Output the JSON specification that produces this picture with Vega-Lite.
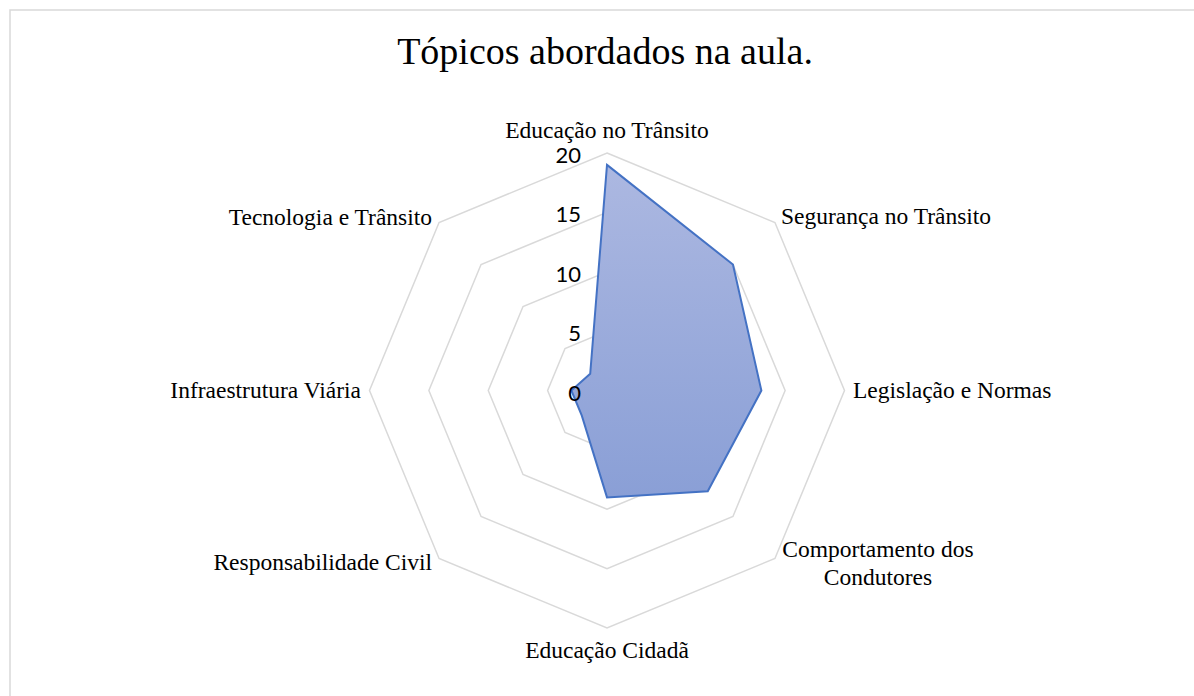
{
  "$schema": "https://vega.github.io/schema/vega-lite/v6.json",
  "width": 1200,
  "height": 700,
  "autosize": {"type": "none"},
  "padding": {"left": 10, "top": 10, "right": 0, "bottom": 0},
  "background": "white",
  "config": {"view": {"stroke": "#d9d9d9", "strokeWidth": 1.5}},
  "title": {
    "text": "Tópicos abordados na aula.",
    "font": "Liberation Serif",
    "fontSize": 38,
    "fontWeight": "normal",
    "color": "#000000",
    "anchor": "middle",
    "baseline": "alphabetic",
    "offset": 0,
    "dx": -5,
    "dy": 92
  },
  "datasets": {
    "topics": [
      {"idx": 0, "topic": "Educação no Trânsito", "value": 19},
      {"idx": 1, "topic": "Segurança no Trânsito", "value": 15},
      {"idx": 2, "topic": "Legislação e Normas", "value": 13},
      {"idx": 3, "topic": "Comportamento dos Condutores", "value": 12},
      {"idx": 4, "topic": "Educação Cidadã", "value": 9},
      {"idx": 5, "topic": "Responsabilidade Civil", "value": 3},
      {"idx": 6, "topic": "Infraestrutura Viária", "value": 3},
      {"idx": 7, "topic": "Tecnologia e Trânsito", "value": 2}
    ],
    "grid": [
      {"level": 5, "idx": 0}, {"level": 5, "idx": 1}, {"level": 5, "idx": 2}, {"level": 5, "idx": 3},
      {"level": 5, "idx": 4}, {"level": 5, "idx": 5}, {"level": 5, "idx": 6}, {"level": 5, "idx": 7},
      {"level": 10, "idx": 0}, {"level": 10, "idx": 1}, {"level": 10, "idx": 2}, {"level": 10, "idx": 3},
      {"level": 10, "idx": 4}, {"level": 10, "idx": 5}, {"level": 10, "idx": 6}, {"level": 10, "idx": 7},
      {"level": 15, "idx": 0}, {"level": 15, "idx": 1}, {"level": 15, "idx": 2}, {"level": 15, "idx": 3},
      {"level": 15, "idx": 4}, {"level": 15, "idx": 5}, {"level": 15, "idx": 6}, {"level": 15, "idx": 7},
      {"level": 20, "idx": 0}, {"level": 20, "idx": 1}, {"level": 20, "idx": 2}, {"level": 20, "idx": 3},
      {"level": 20, "idx": 4}, {"level": 20, "idx": 5}, {"level": 20, "idx": 6}, {"level": 20, "idx": 7}
    ],
    "ticks": [{"level": 0}, {"level": 5}, {"level": 10}, {"level": 15}, {"level": 20}]
  },
  "layer": [
    {
      "data": {"name": "grid"},
      "transform": [
        {"calculate": "datum.level * sin(datum.idx * PI / 4)", "as": "gx"},
        {"calculate": "datum.level * cos(datum.idx * PI / 4)", "as": "gy"}
      ],
      "mark": {"type": "line", "interpolate": "linear-closed", "stroke": "#d9d9d9", "strokeWidth": 1.5},
      "encoding": {
        "x": {"field": "gx", "type": "quantitative", "scale": {"domain": [-50.274, 50.779], "nice": false, "zero": false}, "axis": null},
        "y": {"field": "gy", "type": "quantitative", "scale": {"domain": [-26.905, 32.042], "nice": false, "zero": false}, "axis": null},
        "detail": {"field": "level", "type": "nominal"},
        "order": {"field": "idx", "type": "quantitative"}
      }
    },
    {
      "data": {"name": "topics"},
      "transform": [
        {"calculate": "datum.value * sin(datum.idx * PI / 4)", "as": "px"},
        {"calculate": "datum.value * cos(datum.idx * PI / 4)", "as": "py"}
      ],
      "mark": {
        "type": "line",
        "interpolate": "linear-closed",
        "stroke": "#4472c4",
        "strokeWidth": 2,
        "fill": {
          "gradient": "linear",
          "x1": 0, "y1": 0, "x2": 0, "y2": 1,
          "stops": [
            {"offset": 0, "color": "#acb8e1"},
            {"offset": 1, "color": "#8a9fd6"}
          ]
        }
      },
      "encoding": {
        "x": {"field": "px", "type": "quantitative"},
        "y": {"field": "py", "type": "quantitative"},
        "order": {"field": "idx", "type": "quantitative"}
      }
    },
    {
      "data": {"name": "ticks"},
      "transform": [{"calculate": "0", "as": "tx"}],
      "mark": {"type": "text", "align": "right", "baseline": "middle", "dx": -26, "dy": 3, "font": "Lato", "fontSize": 22, "color": "#000000"},
      "encoding": {
        "x": {"field": "tx", "type": "quantitative"},
        "y": {"field": "level", "type": "quantitative"},
        "text": {"field": "level", "type": "quantitative"}
      }
    },
    {
      "data": {"name": "topics"},
      "transform": [
        {"filter": "datum.idx == 0 || datum.idx == 4"},
        {"calculate": "20 * sin(datum.idx * PI / 4)", "as": "lx"},
        {"calculate": "20 * cos(datum.idx * PI / 4)", "as": "ly"},
        {"calculate": "datum.ly + (datum.idx == 0 ? 15 : -30) / 11.875", "as": "ly2"}
      ],
      "mark": {"type": "text", "align": "center", "baseline": "alphabetic", "font": "Liberation Serif", "fontSize": 23.5, "color": "#000000"},
      "encoding": {
        "x": {"field": "lx", "type": "quantitative"},
        "y": {"field": "ly2", "type": "quantitative"},
        "text": {"field": "topic"}
      }
    },
    {
      "data": {"name": "topics"},
      "transform": [
        {"filter": "datum.idx == 1"},
        {"calculate": "20 * sin(datum.idx * PI / 4)", "as": "lx"},
        {"calculate": "20 * cos(datum.idx * PI / 4)", "as": "ly"}
      ],
      "mark": {"type": "text", "align": "left", "baseline": "alphabetic", "dx": 6, "dy": 1.5, "font": "Liberation Serif", "fontSize": 23.5, "color": "#000000"},
      "encoding": {
        "x": {"field": "lx", "type": "quantitative"},
        "y": {"field": "ly", "type": "quantitative"},
        "text": {"field": "topic"}
      }
    },
    {
      "data": {"name": "topics"},
      "transform": [
        {"filter": "datum.idx == 2"},
        {"calculate": "20 * sin(datum.idx * PI / 4)", "as": "lx"},
        {"calculate": "20 * cos(datum.idx * PI / 4)", "as": "ly"}
      ],
      "mark": {"type": "text", "align": "left", "baseline": "alphabetic", "dx": 8.5, "dy": 7.5, "font": "Liberation Serif", "fontSize": 23.5, "color": "#000000"},
      "encoding": {
        "x": {"field": "lx", "type": "quantitative"},
        "y": {"field": "ly", "type": "quantitative"},
        "text": {"field": "topic"}
      }
    },
    {
      "data": {"name": "topics"},
      "transform": [
        {"filter": "datum.idx == 3"},
        {"calculate": "20 * sin(datum.idx * PI / 4)", "as": "lx"},
        {"calculate": "20 * cos(datum.idx * PI / 4)", "as": "ly"},
        {"calculate": "replace(datum.topic, 'dos ', 'dos\\n')", "as": "label"}
      ],
      "mark": {"type": "text", "align": "center", "baseline": "alphabetic", "dx": 103, "dy": -1.5, "lineBreak": "\n", "lineHeight": 28, "font": "Liberation Serif", "fontSize": 23.5, "color": "#000000"},
      "encoding": {
        "x": {"field": "lx", "type": "quantitative"},
        "y": {"field": "ly", "type": "quantitative"},
        "text": {"field": "label"}
      }
    },
    {
      "data": {"name": "topics"},
      "transform": [
        {"filter": "datum.idx == 5"},
        {"calculate": "20 * sin(datum.idx * PI / 4)", "as": "lx"},
        {"calculate": "20 * cos(datum.idx * PI / 4)", "as": "ly"}
      ],
      "mark": {"type": "text", "align": "right", "baseline": "alphabetic", "dx": -7, "dy": 11.5, "font": "Liberation Serif", "fontSize": 23.5, "color": "#000000"},
      "encoding": {
        "x": {"field": "lx", "type": "quantitative"},
        "y": {"field": "ly", "type": "quantitative"},
        "text": {"field": "topic"}
      }
    },
    {
      "data": {"name": "topics"},
      "transform": [
        {"filter": "datum.idx == 6"},
        {"calculate": "20 * sin(datum.idx * PI / 4)", "as": "lx"},
        {"calculate": "20 * cos(datum.idx * PI / 4)", "as": "ly"}
      ],
      "mark": {"type": "text", "align": "right", "baseline": "alphabetic", "dx": -8.5, "dy": 7.5, "font": "Liberation Serif", "fontSize": 23.5, "color": "#000000"},
      "encoding": {
        "x": {"field": "lx", "type": "quantitative"},
        "y": {"field": "ly", "type": "quantitative"},
        "text": {"field": "topic"}
      }
    },
    {
      "data": {"name": "topics"},
      "transform": [
        {"filter": "datum.idx == 7"},
        {"calculate": "20 * sin(datum.idx * PI / 4)", "as": "lx"},
        {"calculate": "20 * cos(datum.idx * PI / 4)", "as": "ly"}
      ],
      "mark": {"type": "text", "align": "right", "baseline": "alphabetic", "dx": -7, "dy": 2.5, "font": "Liberation Serif", "fontSize": 23.5, "color": "#000000"},
      "encoding": {
        "x": {"field": "lx", "type": "quantitative"},
        "y": {"field": "ly", "type": "quantitative"},
        "text": {"field": "topic"}
      }
    }
  ]
}
